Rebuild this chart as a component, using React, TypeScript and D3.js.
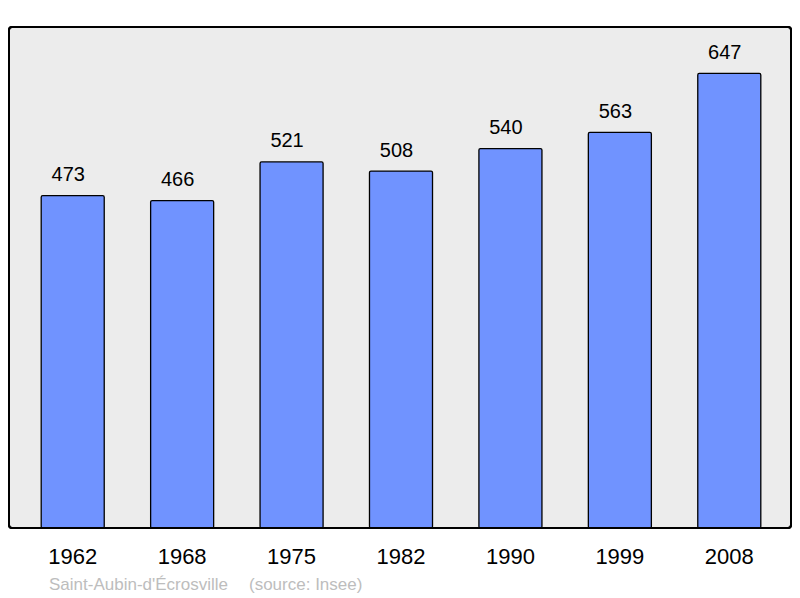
import React from "react";
import * as d3 from "d3";

const years = ["1962", "1968", "1975", "1982", "1990", "1999", "2008"];
const population = [473, 466, 521, 508, 540, 563, 647];
const title = "Saint-Aubin-d'Écrosville";
const source = "(source: Insee)";

export default function App() {
  const W = 800, H = 598;
  const frame = { x: 9, y: 27, w: 782, h: 501 };
  const x = d3.scaleBand<string>().domain(years).range([18, 784]).paddingInner(0.424).paddingOuter(0.212);
  const y = d3.scaleLinear().domain([0, 713]).range([frame.y + frame.h, frame.y]);
  const font = "'Liberation Sans', Arial, sans-serif";
  return (
    <svg width={W} height={H} style={{ position: "absolute", left: 0, top: 0 }}>
      <rect x={frame.x} y={frame.y} width={frame.w} height={frame.h} rx={3} fill="#ececec" stroke="#000" strokeWidth={2} />
      {years.map((yr, i) => {
        const bx = x(yr)!;
        const bw = x.bandwidth();
        const top = y(population[i]);
        return (
          <g key={yr}>
            <rect x={bx} y={top} width={bw} height={y(0) - top} rx={1.5} fill="#7093ff" stroke="#000" strokeWidth={1.3} />
            <text x={bx + bw / 2 - 4.5} y={top - 14.5} textAnchor="middle" fontFamily={font} fontSize={20} fill="#000">{population[i]}</text>
            <text x={bx + bw / 2} y={564} textAnchor="middle" fontFamily={font} fontSize={22} fill="#000">{yr}</text>
          </g>
        );
      })}
      <rect x={frame.x} y={frame.y} width={frame.w} height={frame.h} rx={3} fill="none" stroke="#000" strokeWidth={2} />
      <text x={49} y={590} fontFamily={font} fontSize={17} fill="#bdbdbd">{title}</text>
      <text x={249} y={590} fontFamily={font} fontSize={17} fill="#bdbdbd">{source}</text>
    </svg>
  );
}
